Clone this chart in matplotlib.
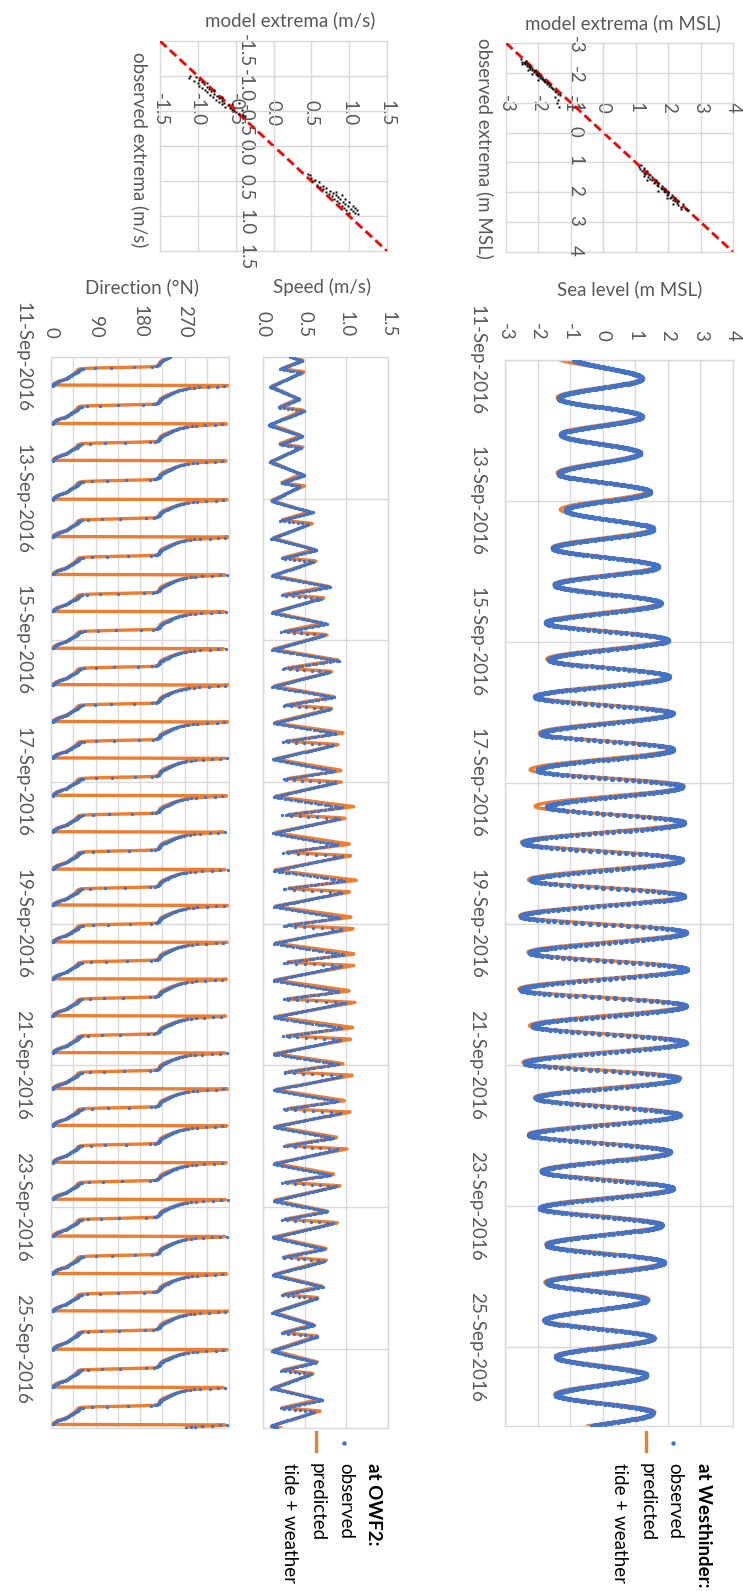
import numpy as np
import matplotlib
matplotlib.use("Agg")
import matplotlib.pyplot as plt
from matplotlib.lines import Line2D

# ------------------------------------------------------------------ data
t_end_days = 15.12                      # axis end (days after 11-Sep-2016 00:00)
date_tick_days = [0, 2, 4, 6, 8, 10, 12, 14]
date_tick_labels = ['11-Sep-2016', '13-Sep-2016', '15-Sep-2016', '17-Sep-2016',
                    '19-Sep-2016', '21-Sep-2016', '23-Sep-2016', '25-Sep-2016']

# sea level at Westhinder: high / low water times (days) and levels (m MSL)
sl_ext_days = [-0.03, 0.26, 0.54, 0.80, 1.06, 1.32, 1.61, 1.87, 2.13, 2.40, 2.67, 2.93,
               3.19, 3.45, 3.73, 3.97, 4.25, 4.49, 4.78, 5.01, 5.30, 5.52, 5.82, 6.05,
               6.34, 6.56, 6.85, 7.09, 7.38, 7.60, 7.89, 8.12, 8.41, 8.64, 8.93, 9.16,
               9.45, 9.68, 9.97, 10.19, 10.47, 10.71, 10.99, 11.23, 11.51, 11.75, 12.03,
               12.27, 12.55, 12.80, 13.09, 13.33, 13.62, 13.87, 14.14, 14.40, 14.68,
               14.93, 15.25]
sl_obs_ext = [-0.95, 1.20, -1.35, 1.20, -1.28, 1.15, -1.35, 1.45, -1.13, 1.56, -1.53, 1.70,
              -1.47, 1.78, -1.75, 2.00, -1.64, 2.03, -2.08, 2.15, -1.89, 2.17, -2.00, 2.44,
              -1.72, 2.50, -2.45, 2.44, -2.20, 2.50, -2.52, 2.55, -2.23, 2.58, -2.52, 2.55,
              -2.15, 2.55, -2.40, 2.32, -2.04, 2.36, -2.26, 2.07, -1.86, 2.15, -1.94,
              1.81, -1.72, 1.88, -1.72, 1.35, -1.79, 1.56, -1.43, 1.34, -1.43,
              1.53, -1.40]
sl_pred_ext = [-1.42, 1.22, -1.40, 1.18, -1.30, 1.12, -1.40, 1.35, -1.30, 1.48, -1.55, 1.65,
               -1.50, 1.72, -1.75, 1.95, -1.72, 2.00, -2.05, 2.12, -1.95, 2.15, -2.23, 2.50,
               -2.08, 2.50, -2.50, 2.40, -2.28, 2.48, -2.55, 2.52, -2.30, 2.55, -2.58, 2.50,
               -2.25, 2.52, -2.45, 2.40, -2.10, 2.38, -2.28, 2.05, -1.90, 2.12, -1.92,
               1.85, -1.75, 1.85, -1.78, 1.42, -1.75, 1.55, -1.45, 1.38, -1.48,
               1.60, -1.45]

# currents at OWF2: one entry per tidal cycle (time of local high water, days)
cur_hw_days = [-0.26, 0.26, 0.80, 1.32, 1.87, 2.40, 2.93, 3.45, 3.97, 4.49, 5.01, 5.52,
               6.05, 6.56, 7.09, 7.60, 8.12, 8.64, 9.16, 9.68, 10.19, 10.71, 11.23, 11.75,
               12.27, 12.80, 13.33, 13.87, 14.40, 14.93, 15.45]
spd_key_hours = [-5.1, -2.3, -1.2, 3.7]      # first peak, dip, second peak, slack
spd_pred_p1 = [0.45, 0.48, 0.42, 0.46, 0.45, 0.55, 0.62, 0.78, 0.72, 0.90, 0.86, 0.97, 0.95,
               1.09, 1.05, 1.13, 1.07, 1.11, 1.05, 1.09, 0.97, 0.99, 0.90, 0.86, 0.77, 0.77,
               0.71, 0.60, 0.65, 0.67, 0.55]
spd_pred_p2 = [0.48, 0.50, 0.48, 0.48, 0.50, 0.60, 0.64, 0.74, 0.78, 0.84, 0.84, 0.91, 0.94,
               1.00, 1.06, 1.06, 1.09, 1.09, 1.11, 1.06, 1.09, 1.05, 1.01, 0.93, 0.90, 0.76,
               0.67, 0.65, 0.61, 0.69, 0.55]
spd_pred_dip = [0.20, 0.22, 0.20, 0.20, 0.22, 0.22, 0.24, 0.25, 0.25, 0.27, 0.27, 0.28, 0.28,
                0.28, 0.28, 0.28, 0.28, 0.28, 0.28, 0.28, 0.28, 0.28, 0.27, 0.27, 0.26, 0.25,
                0.24, 0.24, 0.23, 0.23, 0.22]
spd_pred_min = [0.10, 0.10, 0.10, 0.10, 0.10, 0.12, 0.12, 0.12, 0.12, 0.13, 0.13, 0.14, 0.14,
                0.14, 0.14, 0.14, 0.14, 0.14, 0.14, 0.14, 0.14, 0.14, 0.14, 0.14, 0.13, 0.13,
                0.13, 0.12, 0.12, 0.12, 0.12]
spd_obs_p1 = [0.47, 0.47, 0.44, 0.48, 0.50, 0.60, 0.65, 0.82, 0.78, 0.92, 0.85, 0.88, 0.86,
              0.95, 0.90, 0.98, 0.92, 0.97, 0.92, 0.95, 0.90, 0.90, 0.85, 0.82, 0.78, 0.74,
              0.72, 0.62, 0.64, 0.72, 0.55]
spd_obs_p2 = [0.46, 0.46, 0.50, 0.46, 0.44, 0.55, 0.60, 0.70, 0.74, 0.80, 0.82, 0.85, 0.88,
              0.92, 0.95, 0.95, 0.96, 0.95, 0.98, 0.93, 0.96, 0.95, 0.90, 0.88, 0.85, 0.75,
              0.66, 0.66, 0.58, 0.62, 0.55]
spd_obs_dip = [0.18, 0.20, 0.18, 0.20, 0.22, 0.20, 0.22, 0.22, 0.22, 0.23, 0.23, 0.23, 0.23,
               0.23, 0.23, 0.23, 0.23, 0.23, 0.23, 0.23, 0.23, 0.23, 0.23, 0.22, 0.22, 0.22,
               0.22, 0.21, 0.21, 0.21, 0.20]
spd_obs_min = [0.08, 0.08, 0.06, 0.08, 0.10, 0.10, 0.10, 0.10, 0.11, 0.11, 0.12, 0.12, 0.12,
               0.12, 0.12, 0.12, 0.12, 0.12, 0.12, 0.12, 0.12, 0.12, 0.12, 0.12, 0.11, 0.11,
               0.11, 0.10, 0.10, 0.09, 0.09]

# current direction through one tidal cycle (hours after high water, degrees N)
dir_cycle_hours = [3.40, 3.70, 4.00, 4.40, 5.00, 5.80, 6.60, 7.20, 7.80, 8.80, 9.30, 9.52,
                   9.70, 9.90, 10.10, 10.40, 11.40, 12.30, 13.50, 14.00, 14.60, 15.20, 15.82]
dir_pred_deg = [360, 338, 300, 278, 262, 247, 234, 226, 221, 218, 215, 207,
                150, 100, 62, 55, 50, 43, 32, 22, 12, 6, 2]
dir_obs_deg = [358, 332, 296, 274, 258, 245, 236, 228, 222, 218, 212, 200,
               140, 95, 65, 58, 52, 41, 30, 20, 11, 6, 3]

# extrema scatter: (observed, model)
sl_sc_obs = [-2.45, -2.40, -2.38, -2.35, -2.32, -2.30, -2.28, -2.25, -2.22, -2.20, -2.18, -2.15,
             -2.12, -2.10, -2.08, -2.05, -2.02, -2.00, -1.97, -1.95, -1.92, -1.90, -1.88, -1.85,
             -1.82, -1.80, -1.78, -1.75, -1.72, -1.70, -1.68, -1.65, -1.62, -1.60, -1.55, -1.52,
             -1.48, -1.45, -1.40, -1.35, -1.30, -1.25, -1.20, -1.10, -1.00, -0.85, -1.95, -2.10,
             -2.30, -1.75,
             1.10, 1.15, 1.20, 1.22, 1.28, 1.30, 1.35, 1.40, 1.42, 1.48, 1.50, 1.55, 1.58, 1.60,
             1.65, 1.68, 1.70, 1.75, 1.78, 1.80, 1.85, 1.88, 1.90, 1.95, 1.98, 2.00, 2.05, 2.08,
             2.10, 2.15, 2.18, 2.20, 2.25, 2.28, 2.30, 2.35, 2.40, 2.42, 2.48, 2.55, 2.60, 1.60,
             1.45, 1.95, 2.20, 2.40, 2.55]
sl_sc_mod = [-2.55, -2.38, -2.50, -2.42, -2.45, -2.35, -2.40, -2.30, -2.36, -2.26, -2.30, -2.20,
             -2.25, -2.15, -2.20, -2.10, -2.14, -2.05, -2.08, -2.00, -2.03, -1.95, -2.00, -1.90,
             -1.94, -1.85, -1.90, -1.82, -1.84, -1.75, -1.80, -1.70, -1.74, -1.65, -1.66, -1.60,
             -1.58, -1.55, -1.50, -1.45, -1.40, -1.35, -1.50, -1.40, -1.42, -1.38, -2.20, -2.32,
             -2.52, -2.00,
             1.15, 1.10, 1.25, 1.12, 1.20, 1.35, 1.25, 1.30, 1.45, 1.38, 1.50, 1.45, 1.62, 1.50,
             1.58, 1.70, 1.55, 1.65, 1.80, 1.70, 1.78, 1.90, 1.80, 1.88, 2.00, 1.90, 2.00, 2.12,
             1.98, 2.10, 2.22, 2.05, 2.15, 2.30, 2.20, 2.28, 2.45, 2.30, 2.40, 2.55, 2.62, 1.35,
             1.25, 1.70, 1.98, 2.15, 2.40]
sp_sc_obs = [-1.00, -0.98, -0.97, -0.95, -0.93, -0.92, -0.90, -0.88, -0.86, -0.85, -0.83, -0.82,
             -0.80, -0.78, -0.77, -0.75, -0.73, -0.72, -0.70, -0.68, -0.66, -0.65, -0.63, -0.62,
             -0.60, -0.58, -0.56, -0.55, -0.52, -0.50, -0.48, -0.46, -0.45, -0.43, -0.80, -0.70,
             -0.60, -0.90, -0.62, -0.52,
             0.40, 0.42, 0.45, 0.48, 0.50, 0.52, 0.55, 0.57, 0.58, 0.60, 0.62, 0.64, 0.65, 0.67,
             0.68, 0.70, 0.72, 0.73, 0.75, 0.76, 0.78, 0.80, 0.81, 0.83, 0.85, 0.86, 0.88, 0.90,
             0.91, 0.93, 0.95, 0.96, 0.97, 0.88, 0.92, 0.80, 0.70, 0.75, 0.85, 0.65]
sp_sc_mod = [-1.10, -1.02, -1.12, -0.98, -1.05, -0.95, -1.00, -0.92, -0.98, -0.88, -0.95, -0.85,
             -0.90, -0.82, -0.88, -0.78, -0.84, -0.75, -0.80, -0.72, -0.76, -0.68, -0.72, -0.65,
             -0.68, -0.60, -0.64, -0.58, -0.55, -0.52, -0.50, -0.45, -0.40, -0.38, -0.78, -0.68,
             -0.55, -0.88, -0.45, -0.42,
             0.45, 0.48, 0.50, 0.55, 0.52, 0.60, 0.58, 0.65, 0.62, 0.70, 0.66, 0.75, 0.70, 0.78,
             0.73, 0.82, 0.77, 0.85, 0.80, 0.88, 0.84, 0.92, 0.86, 0.95, 0.90, 0.98, 0.93, 1.02,
             0.96, 1.05, 1.00, 1.08, 1.12, 1.08, 1.10, 1.00, 0.90, 0.95, 1.05, 0.82]

sl_ticks = [-3, -2, -1, 0, 1, 2, 3, 4]
sp_ticks = [-1.5, -1.0, -0.5, 0.0, 0.5, 1.0, 1.5]
spd_ticks = [0.0, 0.5, 1.0, 1.5]
dir_ticks = [0, 45, 90, 135, 180, 225, 270, 315, 360]
dir_tick_labels = ['0', '', '90', '', '180', '', '270', '', '']

# ------------------------------------------------------------------ series
sample_step_days = 10 / 1440.0
t = np.arange(0, t_end_days + 1e-9, sample_step_days)


def through_extrema(tt, tk, vk):
    tk = np.asarray(tk, float)
    vk = np.asarray(vk, float)
    i = np.clip(np.searchsorted(tk, tt, side='right') - 1, 0, len(tk) - 2)
    f = np.clip((tt - tk[i]) / (tk[i + 1] - tk[i]), 0, 1)
    return vk[i] + (vk[i + 1] - vk[i]) * (1 - np.cos(np.pi * f)) / 2


def speed_series(p1, dip, p2, mn, shift=0.0):
    kt, kv = [], []
    for k, hw in enumerate(cur_hw_days):
        for h, v in zip(spd_key_hours, (p1[k], dip[k], p2[k], mn[k])):
            kt.append(hw + h / 24.0 + shift)
            kv.append(v)
    return np.interp(t, kt, kv)


def direction_series(deg, shift=0.0):
    w = np.asarray(cur_hw_days) + dir_cycle_hours[0] / 24.0 + shift
    span = dir_cycle_hours[-1] - dir_cycle_hours[0]
    k = np.clip(np.searchsorted(w, t, side='right') - 1, 0, len(w) - 2)
    rel = dir_cycle_hours[0] + (t - w[k]) / (w[k + 1] - w[k]) * span
    return np.interp(rel, dir_cycle_hours, deg)


sl_obs = through_extrema(t, sl_ext_days, sl_obs_ext)
sl_pred = through_extrema(t, np.asarray(sl_ext_days) - 0.008, sl_pred_ext)
spd_pred = speed_series(spd_pred_p1, spd_pred_dip, spd_pred_p2, spd_pred_min)
spd_obs = speed_series(spd_obs_p1, spd_obs_dip, spd_obs_p2, spd_obs_min, shift=0.008)
dir_pred = direction_series(dir_pred_deg)
dir_obs = direction_series(dir_obs_deg, shift=0.004)

# ------------------------------------------------------------------ figure
plt.rcParams['font.family'] = ['Lato', 'DejaVu Sans']
BLUE = '#4472C4'
ORANGE = '#ED7D31'
GRID = '#d9d9d9'
TXT = '#595959'
FS = 13.5

W, H = 743, 1591
fig = plt.figure(figsize=(W / 100, H / 100), dpi=100)


def rect(L, T, R, B):
    return [L / W, 1 - B / H, (R - L) / W, (B - T) / H]


def fpos(x, y):
    return x / W, 1 - y / H


def style_common(ax):
    ax.set_axisbelow(True)
    ax.grid(True, color=GRID, lw=1)
    ax.tick_params(length=0, labelsize=FS, labelcolor=TXT, pad=14)
    ax.tick_params(axis='x', labelrotation=-90)
    ax.tick_params(axis='y', labelrotation=-90)
    ax.xaxis.tick_top()
    for lab in ax.get_yticklabels():
        lab.set_va('center')


def style_ts(ax, xlim, xticks, xlabels, show_dates):
    ax.set_xlim(xlim)
    ax.set_ylim(t_end_days, 0)
    ax.set_xticks(xticks)
    ax.set_xticklabels(xlabels)
    ax.set_yticks(date_tick_days)
    ax.set_yticklabels(date_tick_labels)
    style_common(ax)
    if not show_dates:
        ax.tick_params(axis='y', labelleft=False)
    for s in ax.spines.values():
        s.set_color(GRID)
        s.set_linewidth(1)


def style_scatter(ax, lim, ticks, labels):
    ax.set_xlim(lim)
    ax.set_ylim(lim[1], lim[0])
    ax.set_xticks(ticks)
    ax.set_yticks(ticks)
    ax.set_xticklabels(labels)
    ax.set_yticklabels(labels)
    style_common(ax)
    ax.spines['top'].set_position(('data', 0))
    ax.spines['left'].set_position(('data', 0))
    ax.spines['right'].set_visible(False)
    ax.spines['bottom'].set_visible(False)
    for s in ('top', 'left'):
        ax.spines[s].set_color(GRID)
    for gl in ax.get_xgridlines() + ax.get_ygridlines():
        gl.set_clip_on(False)
    ax.plot(lim, lim, color='#ff0000', lw=2.0, ls=(0, (3.2, 1.6)), zorder=2)


# sea level time series
ax_sl = fig.add_axes(rect(505, 360, 733, 1426))
ax_sl.plot(sl_pred, t, color=ORANGE, lw=2.4, zorder=2)
ax_sl.plot(sl_obs, t, 'o', ms=3.8, color=BLUE, mec='none', zorder=3)
style_ts(ax_sl, (-3, 4), sl_ticks, [f'{v:g}' for v in sl_ticks], True)

# speed time series
ax_sp = fig.add_axes(rect(263, 357, 388, 1428))
ax_sp.plot(spd_pred, t, color=ORANGE, lw=2.4, zorder=2)
ax_sp.plot(spd_obs, t, 'o', ms=2.4, color=BLUE, mec='none', zorder=3)
style_ts(ax_sp, (0, 1.5), spd_ticks, [f'{v:.1f}' for v in spd_ticks], False)

# direction time series
ax_dr = fig.add_axes(rect(51, 357, 229, 1428))
ax_dr.plot(dir_pred, t, color=ORANGE, lw=2.4, zorder=2)
ax_dr.plot(dir_obs, t, 'o', ms=2.4, color=BLUE, mec='none', zorder=3)
style_ts(ax_dr, (0, 360), dir_ticks, dir_tick_labels, True)

# scatter: sea level extrema
ax_ssl = fig.add_axes(rect(506, 43, 733, 252))
style_scatter(ax_ssl, [-3, 4], sl_ticks, [f'{v:g}' for v in sl_ticks])
ax_ssl.plot(sl_sc_mod, sl_sc_obs, 's', ms=1.8, color='black', mec='none', zorder=3)

# scatter: speed extrema
ax_ssp = fig.add_axes(rect(160, 41, 387, 251))
style_scatter(ax_ssp, [-1.5, 1.5], sp_ticks, [f'{v:.1f}' for v in sp_ticks])
ax_ssp.plot(sp_sc_mod, sp_sc_obs, 's', ms=1.8, color='black', mec='none', zorder=3)

# axis titles
fig.text(*fpos(623, 23), 'model extrema (m MSL)', ha='center', va='center', fontsize=FS, color=TXT)
fig.text(*fpos(485, 148), 'observed extrema (m MSL)', ha='center', va='center', fontsize=FS,
         color=TXT, rotation=-90)
fig.text(*fpos(290, 20), 'model extrema (m/s)', ha='center', va='center', fontsize=FS, color=TXT)
fig.text(*fpos(140, 150), 'observed extrema (m/s)', ha='center', va='center', fontsize=FS,
         color=TXT, rotation=-90)
fig.text(*fpos(630, 289), 'Sea level (m MSL)', ha='center', va='center', fontsize=FS, color=TXT)
fig.text(*fpos(322, 287), 'Speed (m/s)', ha='center', va='center', fontsize=FS, color=TXT)
fig.text(*fpos(142, 287), 'Direction (°N)', ha='center', va='center', fontsize=FS, color=TXT)


# legends
def legend(x_title, x_obs, x_pred, x_tw, title):
    fig.text(*fpos(x_title, 1463), title, ha='center', va='top', rotation=-90,
             fontsize=FS, fontweight='bold', color='black')
    fig.text(*fpos(x_obs, 1463), 'observed', ha='center', va='top', rotation=-90,
             fontsize=FS, color='black')
    fig.text(*fpos(x_pred, 1463), 'predicted', ha='center', va='top', rotation=-90,
             fontsize=FS, color='black')
    fig.text(*fpos(x_tw, 1463), 'tide + weather', ha='center', va='top', rotation=-90,
             fontsize=FS, color='black')
    fig.add_artist(Line2D([x_obs / W - 0.003], [1 - 1443 / H], marker='o', ms=3.2, color=BLUE,
                          mec='none', transform=fig.transFigure))
    fig.add_artist(Line2D([x_pred / W - 0.002] * 2, [1 - 1432 / H, 1 - 1451 / H], color=ORANGE,
                          lw=2.4, transform=fig.transFigure))


legend(703, 675, 647, 619, 'at Westhinder:')
legend(373, 346, 317, 290, 'at OWF2:')

fig.savefig('out.png', dpi=100)
